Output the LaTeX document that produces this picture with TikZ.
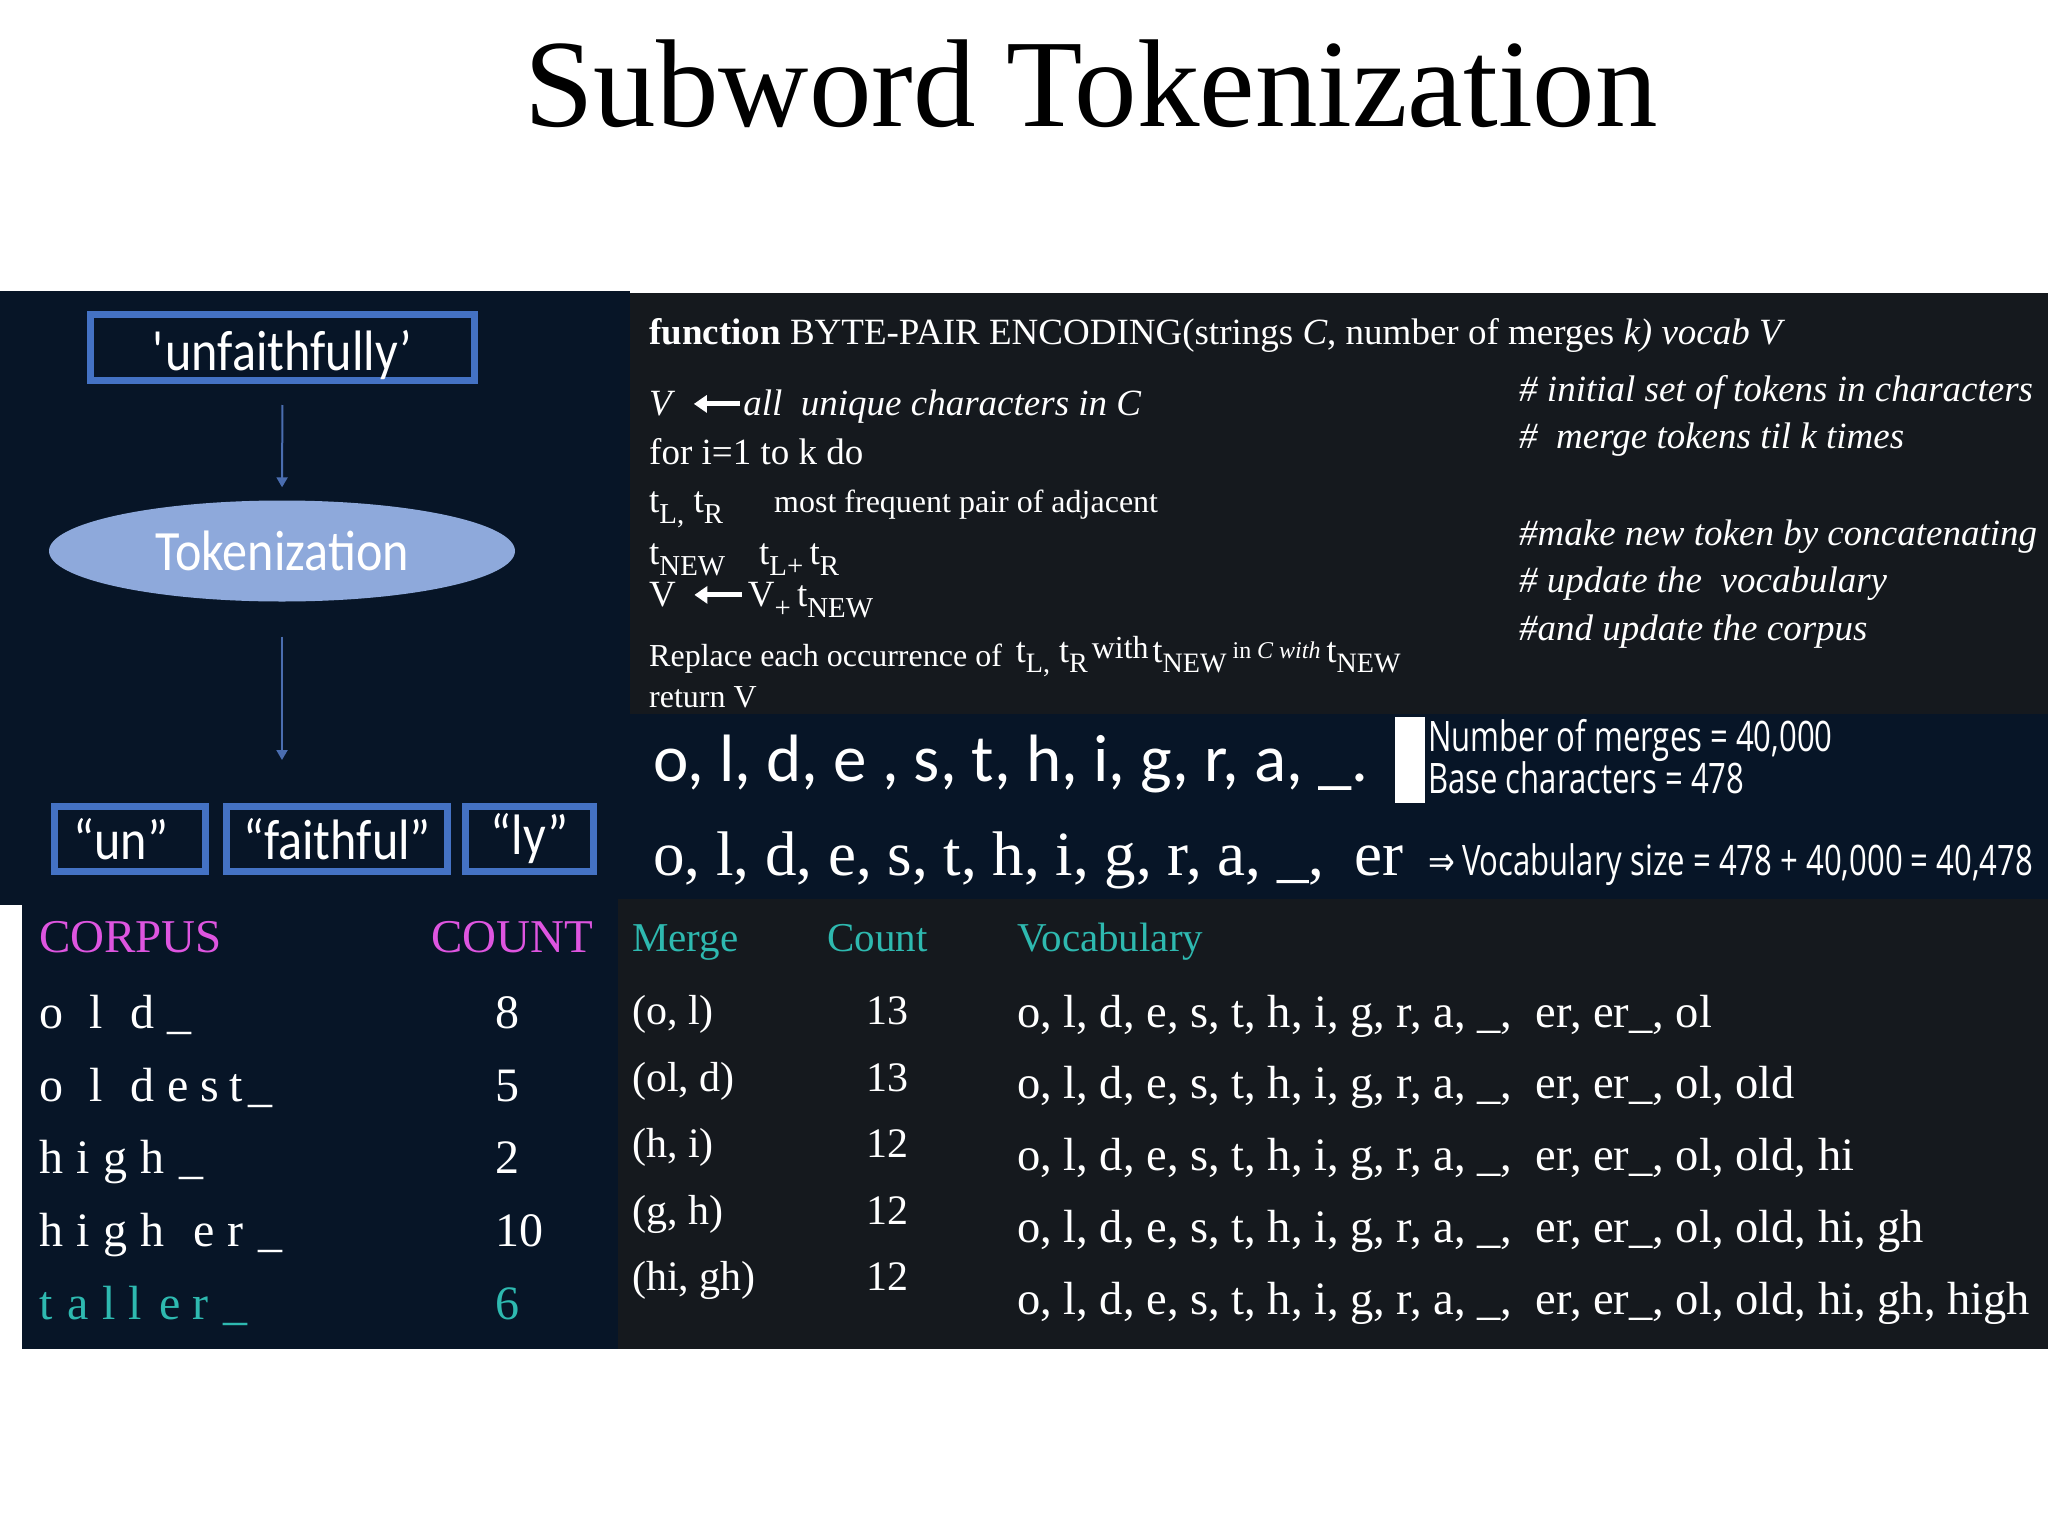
\documentclass[tikz,border=0pt]{standalone}
\usepackage{fontspec}
\usepackage{graphicx}
\setmainfont{Liberation Serif}
\newfontfamily\calfont{Carlito}
\newfontfamily\calxfont{Carlito}[FakeStretch=0.88]
\newfontfamily\osfont{Open Sans}[FakeStretch=0.74]
\newfontfamily\djvfont{DejaVu Sans}[FakeStretch=0.8]
\usetikzlibrary{arrows.meta,shapes.geometric}
\definecolor{navybg}{HTML}{071527}
\definecolor{graybg}{HTML}{15191E}
\definecolor{boxblue}{HTML}{4472C4}
\definecolor{ellfill}{HTML}{8EA9DB}
\definecolor{arrblue}{HTML}{4A6DB0}
\definecolor{corpmag}{HTML}{DE55E0}
\definecolor{tealtxt}{HTML}{2EB9B0}
\newcommand\fs[1]{\fontsize{#1}{#1}\selectfont}
\newcommand\lo[1]{\raisebox{-0.3em}{\scalebox{0.78}{#1}}}
\newcommand\larr[1]{\tikz[baseline=-0.3em]\draw[white,line width=5pt,{Triangle[width=17pt,length=13pt]}-](0pt,0pt)--(#1,0pt);}
\newcommand\hs[1]{\hspace{#1pt}}
\begin{document}
\begin{tikzpicture}[x=1pt,y=-1pt,
  txt/.style={anchor=base west,inner sep=0pt,text=white},
  alg/.style={txt,font=\fs{37}},
  algs/.style={txt,font=\fs{32}},
  cmt/.style={txt,font=\fs{37}\itshape},
  tokbox/.style={draw=boxblue,line width=7pt,inner sep=0pt,text=white,font=\calxfont\fs{57}},
  arr/.style={draw=arrblue,line width=2pt,-{Triangle[width=11pt,length=10pt]}},
  corphead/.style={txt,text=corpmag,font=\fs{47}},
  corprow/.style={txt,font=\fs{48}},
  mhead/.style={txt,text=tealtxt,font=\fs{41}},
  mrow/.style={txt,font=\fs{42}},
  vrow/.style={txt,font=\fs{46.5}},
  osc/.style={txt,font=\osfont\fs{42}}]
\useasboundingbox (0,0) rectangle (2048,1536);
\fill[white] (0,0) rectangle (2048,1536);
% title
\node[anchor=base,inner sep=0pt,font=\fs{125}] (title) at (1091,127) {Subword Tokenization};
% panels
\fill[navybg] (0,291) rectangle (630,905);
\fill[graybg] (630,293) rectangle (2048,714);
\fill[navybg] (630,714) rectangle (2048,899);
\fill[navybg] (22,905) rectangle (618,1349);
\fill[graybg] (618,899) rectangle (2048,1349);
% left diagram
\node[tokbox,minimum width=384pt,minimum height=66pt,text depth=0pt] (word) at (282.5,347.5) {\raisebox{-6pt}{\textquotesingle unfaithfully’}};
\node[ellipse,fill=ellfill,minimum width=466pt,minimum height=101pt,inner sep=0pt,text=white,font=\calxfont\fs{57}] (tok) at (282,551) {Tokenization};
\node[tokbox,minimum width=151pt,minimum height=65pt] (un) at (130,839) {\hspace{-18pt}“un”};
\node[tokbox,minimum width=221pt,minimum height=65pt] (faith) at (337,839) {“faithful”};
\node[tokbox,minimum width=128pt,minimum height=65pt] (ly) at (529.5,839) {“ly”};
\draw[arr,shorten <=21pt,shorten >=13pt] (word.south) -- (tok.north);
\draw[arr,shorten <=35pt,shorten >=43pt] (tok.south) -- (tok.south |- faith.north);
% algorithm
\node[alg] (a1) at (649,344) {\textbf{function} BYTE-PAIR ENCODING(strings \textit{C}, number of merges \textit{k) vocab V}};
\node[alg] (a2) at (649,415) {\textit{V}\hspace{16pt}\larr{46pt}\hspace{1pt}\textit{all\ \ unique characters in C}};
\node[alg] (a3) at (649,464) {for i=1 to k do};
\node[alg] (a4) at (649,512) {t\lo{L,} t\lo{R}};
\node[algs] (a4b) at (774,512) {most frequent pair of adjacent};
\node[alg] (a5) at (649,564) {t\lo{NEW}};
\node[alg] (a5b) at (759,564) {t\lo{L+}\,t\lo{R}};
\node[alg] (a6) at (649,606) {V\hspace{16pt}\larr{48pt}\hspace{3pt}V\lo{+}\,t\lo{NEW}};
\node[algs] (a7) at (649,666) {Replace each occurrence of\hspace{14pt}\raisebox{4pt}{\fs{36}t\lo{L,} t\lo{R}}\hspace{4pt}\raisebox{8pt}{with}\hspace{4pt}\raisebox{4pt}{\fs{36}t\lo{NEW}}\hspace{6pt}\raisebox{8pt}{\fs{24}in \textit{C with}}\hspace{6pt}\raisebox{4pt}{\fs{36}t\lo{NEW}}};
\node[algs] (a8) at (649,707) {return V};
\node[cmt] (c1) at (1519,401) {\# initial set of tokens in characters};
\node[cmt] (c2) at (1519,448) {\#\ \ merge tokens til k times};
\node[cmt] (c3) at (1519,545) {\#make new token by concatenating};
\node[cmt] (c4) at (1519,592) {\# update the\ \ vocabulary};
\node[cmt] (c5) at (1519,640) {\#and update the corpus};
% middle strip
\node[txt,font=\calfont\fs{67}] (chars) at (653,781) {o, l, d, e , s, t, h, i, g, r, a, \_.};
\node[txt,font=\fs{63}] (chars2) at (653,875) {o, l, d, e, s, t, h, i, g, r, a, \_,\hspace{30pt}er};
\fill[white] (1395,717) rectangle (1425,803);
\node[osc] (nm) at (1428,751) {Number of merges = 40,000};
\node[osc] (bc) at (1428,793) {Base characters = 478};
\node[osc] (vs) at (1428,875) {{\djvfont\fs{40}⇒}\,Vocabulary size = 478 + 40,000 = 40,478};
% corpus
\node[corphead] (ch1) at (39,952) {CORPUS};
\node[corphead] (ch2) at (431,952) {COUNT};
\node[corprow] (r1) at (39,1028) {o\hs{26}l\hs{28}d\hs{13}\_};
\node[corprow] (r2) at (39,1101) {o\hs{26}l\hs{28}d\hs{13}e\hs{12}s\hs{10}t\hs{6}\_};
\node[corprow] (r3) at (39,1173) {h\hs{13}i\hs{14}g\hs{13}h\hs{15}\_};
\node[corprow] (r4) at (39,1246) {h\hs{13}i\hs{14}g\hs{13}h\hs{29}e\hs{13}r\hs{15}\_};
\node[corprow,text=tealtxt] (r5) at (39,1319) {t\hs{15}a\hs{14}l\hs{12}l\hs{18}e\hs{12}r\hs{15}\_};
\node[corprow] (n1) at (495,1028) {8};
\node[corprow] (n2) at (495,1101) {5};
\node[corprow] (n3) at (495,1173) {2};
\node[corprow] (n4) at (495,1246) {10};
\node[corprow,text=tealtxt] (n5) at (495,1319) {6};
% merges
\node[mhead] (mh1) at (632,951) {Merge};
\node[mhead] (mh2) at (827,951) {Count};
\node[mhead] (mh3) at (1017,951) {Vocabulary};
\node[mrow] (m1) at (632,1024) {(o, l)};
\node[mrow] (m2) at (632,1091) {(ol, d)};
\node[mrow] (m3) at (632,1157) {(h, i)};
\node[mrow] (m4) at (632,1224) {(g, h)};
\node[mrow] (m5) at (632,1290) {(hi, gh)};
\node[mrow] (k1) at (866,1024) {13};
\node[mrow] (k2) at (866,1091) {13};
\node[mrow] (k3) at (866,1157) {12};
\node[mrow] (k4) at (866,1224) {12};
\node[mrow] (k5) at (866,1290) {12};
\node[vrow] (v1) at (1017,1027) {o, l, d, e, s, t, h, i, g, r, a, \_,\ \ er, er\_, ol};
\node[vrow] (v2) at (1017,1098) {o, l, d, e, s, t, h, i, g, r, a, \_,\ \ er, er\_, ol, old};
\node[vrow] (v3) at (1017,1170) {o, l, d, e, s, t, h, i, g, r, a, \_,\ \ er, er\_, ol, old, hi};
\node[vrow] (v4) at (1017,1242) {o, l, d, e, s, t, h, i, g, r, a, \_,\ \ er, er\_, ol, old, hi, gh};
\node[vrow] (v5) at (1017,1314) {o, l, d, e, s, t, h, i, g, r, a, \_,\ \ er, er\_, ol, old, hi, gh, high};
\end{tikzpicture}
\end{document}
